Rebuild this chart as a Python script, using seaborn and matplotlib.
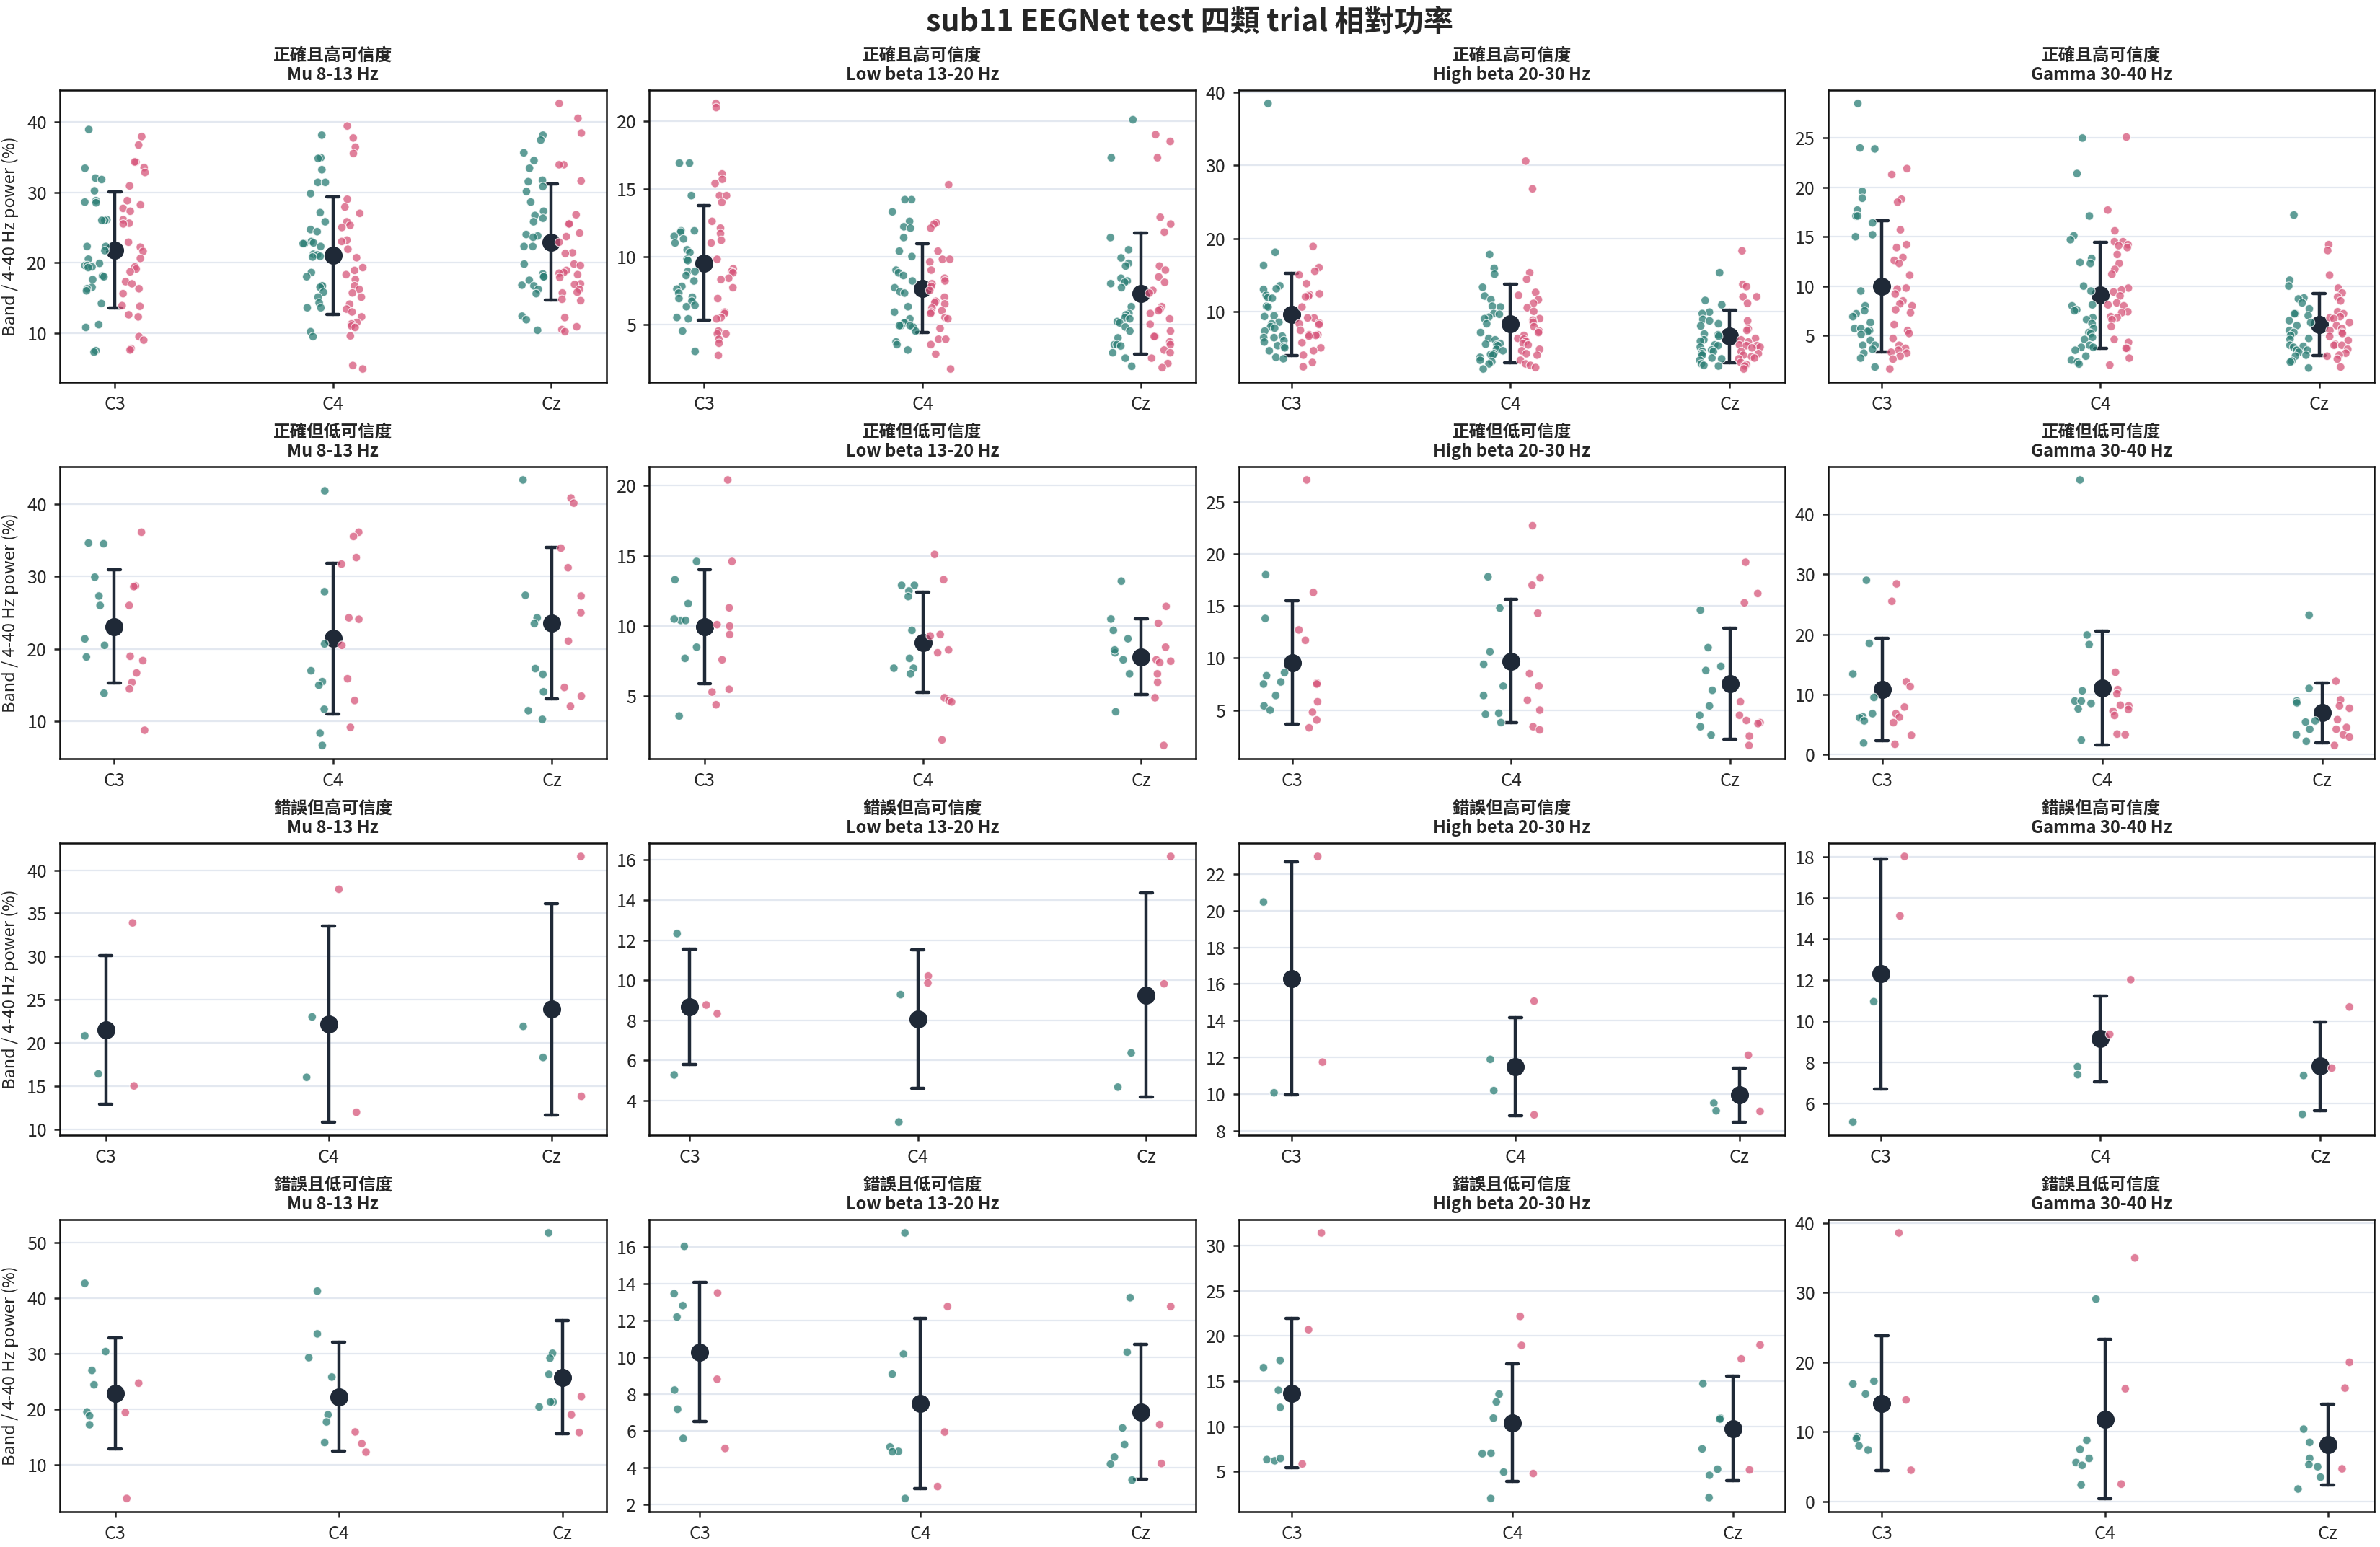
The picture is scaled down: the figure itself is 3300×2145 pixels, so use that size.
import numpy as np
import pandas as pd
import seaborn as sns
import matplotlib.pyplot as plt

channels = ["C3", "C4", "Cz"]
groups = ["A", "B"]
row_titles = ["正確且高可信度", "正確但低可信度", "錯誤但高可信度", "錯誤且低可信度"]
band_titles = ["Mu 8-13 Hz", "Low beta 13-20 Hz", "High beta 20-30 Hz", "Gamma 30-40 Hz"]

# 正確且高可信度
ok_hi_mu = {
    "C3": ([38.9, 33.4, 32.0, 31.8, 30.2, 28.8, 28.6, 28.5, 26.1, 26.0, 26.0, 22.3, 22.3, 21.7, 20.5, 19.9,
            19.6, 19.6, 19.4, 19.3, 18.1, 18.0, 17.6, 16.5, 16.3, 16.0, 14.2, 11.2, 10.8, 7.5, 7.3],
           [37.9, 36.7, 34.3, 34.3, 33.5, 32.8, 30.9, 28.8, 28.2, 27.7, 27.3, 26.1, 25.6, 25.5, 22.9, 22.2,
            21.6, 20.6, 19.4, 19.1, 18.7, 17.3, 17.0, 16.3, 15.6, 13.9, 13.8, 12.6, 12.3, 9.5, 9.0, 7.8, 7.6]),
    "C4": ([38.1, 34.9, 34.8, 33.2, 31.4, 31.4, 29.8, 27.1, 25.8, 24.7, 24.4, 23.0, 22.8, 22.7, 22.7, 22.3,
            21.2, 21.1, 20.9, 20.8, 18.6, 18.0, 16.7, 16.7, 16.5, 15.8, 15.1, 14.3, 13.6, 13.6, 10.2, 9.5],
           [39.4, 37.7, 36.4, 35.5, 29.0, 27.9, 27.0, 25.8, 25.3, 25.0, 23.2, 23.0, 21.9, 20.7, 19.3, 18.9,
            18.3, 17.6, 16.7, 16.2, 15.7, 15.1, 14.1, 13.4, 13.0, 12.3, 11.5, 11.3, 11.0, 10.8, 9.6, 5.4, 4.9]),
    "Cz": ([38.1, 37.4, 35.6, 34.5, 33.4, 31.7, 31.5, 30.8, 30.1, 28.6, 27.3, 26.7, 26.3, 25.8, 24.0, 23.8,
            23.6, 22.3, 22.3, 19.8, 18.4, 18.0, 18.0, 17.5, 16.8, 16.7, 16.2, 15.6, 12.4, 11.9, 10.4],
           [42.6, 40.5, 38.4, 33.9, 33.9, 31.6, 26.8, 25.5, 25.5, 24.2, 23.7, 22.9, 21.4, 21.3, 19.8, 19.6,
            18.9, 18.6, 18.5, 18.3, 17.9, 17.0, 16.9, 16.2, 15.8, 15.7, 14.8, 14.6, 12.2, 10.9, 10.5, 10.2]),
}
ok_hi_lb = {
    "C3": ([16.9, 16.9, 14.5, 11.9, 11.9, 11.8, 11.5, 11.3, 11.0, 10.5, 10.3, 9.8, 9.7, 8.9, 8.9, 8.6,
            8.2, 7.8, 7.6, 7.3, 7.0, 6.9, 6.7, 6.4, 6.3, 5.5, 5.4, 4.5, 3.0],
           [21.3, 21.0, 16.1, 15.7, 15.4, 14.5, 14.5, 14.0, 12.6, 12.1, 11.7, 11.2, 11.0, 9.8, 9.1, 8.9,
            8.8, 8.4, 8.3, 7.7, 6.9, 5.9, 5.8, 5.5, 5.4, 4.5, 4.3, 4.3, 3.9, 3.6, 2.7]),
    "C4": ([14.2, 14.2, 13.3, 12.6, 12.2, 12.1, 11.4, 10.4, 10.0, 9.0, 8.8, 8.6, 8.2, 7.7, 7.4, 7.3,
            6.3, 5.9, 5.4, 5.1, 5.1, 4.9, 4.9, 4.8, 4.5, 3.7, 3.5, 3.1, 4.9],
           [15.3, 12.5, 12.4, 12.1, 10.4, 9.8, 9.8, 9.6, 9.0, 8.4, 8.2, 8.0, 7.8, 7.5, 7.0, 6.7,
            6.6, 6.5, 6.2, 6.0, 5.9, 5.8, 5.5, 5.4, 4.7, 3.9, 3.9, 3.5, 2.8, 1.7]),
    "Cz": ([20.1, 17.3, 11.4, 10.5, 9.9, 9.5, 9.3, 8.4, 8.2, 8.1, 8.0, 7.7, 6.3, 5.8, 5.7, 5.5,
            5.4, 5.2, 5.1, 4.8, 4.5, 4.0, 3.5, 3.5, 3.4, 2.9, 2.5, 1.9],
           [19.0, 18.5, 17.3, 12.9, 12.4, 11.8, 9.3, 9.0, 8.5, 8.1, 7.5, 7.3, 6.3, 6.1, 6.0, 5.8,
            5.4, 5.0, 4.5, 4.1, 4.1, 3.7, 3.5, 3.1, 2.9, 2.5, 2.1, 1.8]),
}
ok_hi_hb = {
    "C3": ([38.5, 18.1, 16.3, 13.5, 13.1, 13.0, 12.2, 11.9, 11.8, 10.7, 10.6, 9.4, 9.3, 8.5, 8.3, 7.9,
            7.7, 7.3, 6.6, 6.4, 6.4, 6.0, 5.8, 5.3, 5.2, 5.0, 4.6, 3.7, 3.5],
           [18.9, 16.0, 15.5, 15.0, 13.8, 12.4, 12.3, 12.1, 12.0, 10.6, 9.1, 9.1, 8.4, 8.3, 8.2, 7.4,
            6.8, 6.8, 6.7, 6.6, 5.7, 5.0, 4.6, 4.0, 3.0, 2.4]),
    "C4": ([17.8, 15.9, 15.1, 13.3, 12.1, 11.6, 10.7, 10.6, 9.7, 9.6, 9.2, 9.0, 8.3, 7.1, 6.3, 6.1,
            5.6, 5.5, 5.4, 5.3, 4.8, 4.6, 4.2, 4.1, 4.0, 3.7, 3.3, 3.1, 2.8, 2.1],
           [30.6, 26.8, 15.3, 14.4, 12.6, 12.2, 11.6, 11.1, 10.5, 10.0, 9.0, 8.8, 8.5, 7.9, 7.3, 7.1,
            6.7, 6.3, 6.2, 5.9, 5.6, 5.4, 4.8, 4.6, 4.2, 4.0, 3.3, 2.8, 2.6, 2.3]),
    "Cz": ([15.3, 11.5, 10.9, 9.9, 9.7, 8.9, 8.7, 8.3, 8.0, 6.9, 6.8, 6.6, 6.1, 5.9, 5.4, 5.3,
            5.1, 4.7, 4.5, 4.5, 4.2, 4.0, 3.6, 3.5, 3.3, 2.8, 2.6, 2.5],
           [18.3, 13.7, 13.4, 12.0, 12.0, 11.1, 8.7, 7.6, 7.4, 6.3, 6.1, 5.8, 5.4, 5.3, 5.3, 5.1,
            5.0, 4.5, 4.2, 4.0, 3.8, 3.6, 3.5, 3.0, 2.7, 2.5, 2.1]),
}
ok_hi_g = {
    "C3": ([28.5, 24.0, 23.9, 19.6, 18.9, 17.7, 17.1, 17.1, 16.4, 15.2, 15.0, 9.5, 8.0, 7.5, 7.2, 6.9,
            6.3, 5.7, 5.7, 5.5, 5.4, 5.1, 4.5, 4.0, 4.0, 3.6, 3.2, 2.7, 1.8],
           [21.9, 21.3, 18.8, 18.5, 15.7, 14.2, 13.9, 12.9, 12.6, 12.3, 11.1, 9.8, 9.7, 9.2, 8.5, 8.2,
            8.0, 7.6, 7.3, 6.1, 5.5, 5.2, 4.7, 4.0, 3.7, 3.5, 3.3, 3.2, 2.9, 2.6, 1.6]),
    "C4": ([25.0, 21.4, 17.1, 15.1, 14.7, 12.8, 12.4, 12.3, 10.0, 9.5, 8.1, 8.0, 7.6, 7.5, 6.8, 6.6,
            6.2, 5.7, 5.3, 5.2, 4.8, 4.6, 4.0, 3.8, 3.8, 3.5, 2.9, 2.5, 2.3, 2.1],
           [25.1, 17.7, 15.6, 14.5, 14.5, 14.2, 14.1, 13.9, 13.2, 12.3, 11.7, 11.2, 9.8, 9.6, 9.4, 9.0,
            8.3, 8.1, 8.0, 7.4, 7.3, 6.9, 6.8, 6.6, 5.9, 4.6, 4.3, 3.7, 3.7, 2.7, 2.0]),
    "Cz": ([17.2, 10.6, 10.0, 8.8, 8.7, 8.3, 7.7, 7.2, 7.2, 7.0, 6.5, 6.3, 6.0, 5.5, 5.3, 5.0,
            4.7, 4.6, 4.0, 3.9, 3.8, 3.5, 3.5, 3.3, 3.0, 2.9, 2.4, 2.3, 1.7],
           [14.2, 13.6, 11.1, 9.8, 9.3, 8.9, 8.5, 7.4, 7.2, 6.9, 6.8, 6.7, 6.3, 6.0, 5.7, 5.5,
            5.3, 5.2, 4.9, 4.5, 4.1, 4.0, 4.0, 3.6, 3.2, 3.0, 2.9, 2.6, 1.8]),
}

# 正確但低可信度
ok_lo_mu = {
    "C3": ([34.5, 34.6, 29.9, 27.3, 26.0, 21.4, 20.5, 18.9, 13.9],
           [36.1, 28.7, 28.6, 26.0, 19.0, 18.4, 16.7, 15.4, 14.5, 8.8]),
    "C4": ([41.8, 27.9, 20.7, 17.0, 15.5, 15.0, 11.7, 8.4, 6.7],
           [36.1, 35.5, 32.6, 31.7, 24.3, 24.1, 20.5, 15.9, 12.9, 9.2]),
    "Cz": ([43.3, 27.4, 24.3, 23.5, 17.3, 16.5, 14.1, 11.5, 10.3],
           [40.8, 40.1, 33.9, 31.2, 27.3, 25.0, 21.1, 14.7, 13.5, 12.1]),
}
ok_lo_lb = {
    "C3": ([14.6, 13.3, 11.6, 10.4, 10.5, 10.4, 8.5, 7.7, 3.6],
           [20.4, 14.6, 11.3, 10.1, 10.0, 9.4, 7.6, 5.5, 5.3, 4.4]),
    "C4": ([12.9, 12.9, 12.5, 12.1, 9.7, 7.7, 7.0, 7.0, 6.6],
           [15.1, 13.3, 9.4, 9.3, 8.3, 8.1, 4.9, 4.7, 4.6, 1.9]),
    "Cz": ([13.2, 10.5, 9.7, 9.1, 8.1, 7.6, 8.3, 6.6, 3.9],
           [11.4, 10.2, 8.5, 7.6, 7.5, 7.4, 6.6, 6.0, 4.9, 1.5]),
}
ok_lo_hb = {
    "C3": ([18.0, 13.8, 8.6, 8.3, 7.7, 7.5, 6.4, 5.4, 5.0],
           [27.1, 16.3, 12.7, 11.7, 7.6, 7.5, 5.8, 4.8, 4.05, 3.3]),
    "C4": ([17.8, 14.8, 10.6, 9.4, 7.3, 6.4, 4.7, 4.6, 3.8],
           [22.7, 17.7, 17.0, 14.3, 8.5, 7.3, 5.95, 5.0, 3.4, 3.1]),
    "Cz": ([14.6, 11.0, 9.2, 8.8, 6.9, 5.4, 4.5, 3.4, 2.6],
           [19.2, 16.2, 15.3, 5.8, 4.5, 4.0, 3.8, 3.7, 2.5, 1.6]),
}
ok_lo_g = {
    "C3": ([29.0, 18.5, 13.4, 9.5, 6.8, 6.3, 6.1, 5.6, 1.9],
           [28.4, 25.5, 12.1, 11.3, 7.9, 6.8, 6.2, 5.3, 3.2, 1.7]),
    "C4": ([45.7, 19.9, 18.3, 10.6, 8.9, 8.9, 8.5, 7.6, 2.4],
           [13.7, 10.8, 10.1, 8.2, 8.1, 7.5, 7.2, 6.5, 3.4, 3.3]),
    "Cz": ([23.2, 11.0, 8.9, 8.6, 5.6, 5.4, 4.2, 3.3, 2.2],
           [12.2, 9.1, 8.1, 7.7, 5.8, 4.5, 4.2, 3.3, 2.9, 1.5]),
}

# 錯誤但高可信度
bad_hi_mu = {
    "C3": ([20.8, 16.4], [33.9, 15.0]),
    "C4": ([23.0, 16.0], [37.8, 11.95]),
    "Cz": ([21.9, 18.3], [41.6, 13.8]),
}
bad_hi_lb = {
    "C3": ([12.33, 5.27], [8.76, 8.33]),
    "C4": ([9.28, 2.92], [10.21, 9.86]),
    "Cz": ([6.37, 4.66], [16.18, 9.82]),
}
bad_hi_hb = {
    "C3": ([20.47, 10.08], [22.95, 11.75]),
    "C4": ([11.9, 10.2], [15.07, 8.88]),
    "Cz": ([9.52, 9.1], [12.13, 9.07]),
}
bad_hi_g = {
    "C3": ([10.94, 5.09], [18.0, 15.11]),
    "C4": ([7.78, 7.39], [12.01, 9.35]),
    "Cz": ([7.35, 5.46], [10.68, 7.71]),
}

# 錯誤且低可信度
bad_lo_mu = {
    "C3": ([42.7, 30.4, 27.0, 24.4, 19.5, 18.8, 17.2], [24.7, 19.4, 3.9]),
    "C4": ([41.3, 33.6, 29.3, 25.8, 19.0, 17.7, 14.0], [15.9, 13.8, 12.25]),
    "Cz": ([51.8, 30.1, 29.2, 26.3, 21.3, 21.3, 20.4], [22.3, 19.0, 15.8]),
}
bad_lo_lb = {
    "C3": ([16.04, 13.47, 12.82, 12.2, 8.23, 7.19, 5.6], [13.51, 8.82, 5.06]),
    "C4": ([16.77, 10.19, 9.1, 5.14, 4.9, 4.88, 2.34], [12.77, 5.95, 2.99]),
    "Cz": ([13.25, 10.29, 6.17, 5.27, 4.59, 4.21, 3.34], [12.77, 6.36, 4.24]),
}
bad_lo_hb = {
    "C3": ([17.3, 16.5, 14.0, 12.1, 6.33, 6.2, 6.46], [31.4, 20.7, 5.85]),
    "C4": ([13.57, 12.7, 10.92, 7.04, 6.99, 4.95, 2.03], [22.17, 18.96, 4.79]),
    "Cz": ([14.74, 10.92, 10.81, 7.52, 5.27, 4.6, 2.13], [19.01, 17.47, 5.19]),
}
bad_lo_g = {
    "C3": ([17.3, 16.9, 15.45, 9.3, 9.03, 8.0, 7.4], [38.6, 14.6, 4.5]),
    "C4": ([29.1, 8.8, 7.5, 6.2, 5.6, 5.2, 2.4], [35.0, 16.2, 2.5]),
    "Cz": ([10.4, 8.5, 6.2, 5.0, 5.3, 3.5, 1.8], [20.0, 16.3, 4.7]),
}

panels = [
    [ok_hi_mu, ok_hi_lb, ok_hi_hb, ok_hi_g],
    [ok_lo_mu, ok_lo_lb, ok_lo_hb, ok_lo_g],
    [bad_hi_mu, bad_hi_lb, bad_hi_hb, bad_hi_g],
    [bad_lo_mu, bad_lo_lb, bad_lo_hb, bad_lo_g],
]

palette = {"A": "#2a7d74", "B": "#d6557a"}
offset = {"A": -0.085, "B": 0.085}
mean_color = "#1f2937"

sns.set_style("ticks")
plt.rcParams['font.family'] = ['Noto Sans CJK TC', 'DejaVu Sans']
plt.rcParams['axes.linewidth'] = 0.9
plt.rcParams['axes.edgecolor'] = '#111111'


def to_frame(d):
    recs = []
    for ci, ch in enumerate(channels):
        for g, vals in zip(groups, d[ch]):
            for v in vals:
                recs.append((ch, ci, g, v))
    df = pd.DataFrame(recs, columns=["channel", "ci", "group", "value"])
    df["xpos"] = df["ci"] + df["group"].map(offset)
    return df


np.random.seed(11)
fig, axes = plt.subplots(4, 4, figsize=(16.5, 10.725), dpi=200)
fig.subplots_adjust(left=0.0252, right=0.9976, top=0.9417, bottom=0.0228, wspace=0.079, hspace=0.289)

for r in range(4):
    for c in range(4):
        ax = axes[r, c]
        df = to_frame(panels[r][c])
        sns.stripplot(data=df, x="xpos", y="value", hue="group", hue_order=groups, palette=palette,
                      native_scale=True, orient="x", jitter=0.32, size=4.2, alpha=0.75,
                      edgecolor="white", linewidth=0.45, legend=False, ax=ax)
        sns.pointplot(data=df, x="ci", y="value", native_scale=True, orient="x", errorbar="sd",
                      linestyle="none", color=mean_color, markersize=7, capsize=0.055,
                      err_kws={"linewidth": 1.6}, ax=ax)
        ax.set_xticks([0, 1, 2], channels)
        ax.set_xlabel("")
        ax.set_ylabel("Band / 4-40 Hz power (%)" if c == 0 else "", fontsize=8.5)
        ax.grid(axis="y", color="#e3e8f0", linewidth=0.8)
        ax.set_axisbelow(True)
        ax.tick_params(labelsize=9, length=3, width=0.9)
        ax.set_title(f"{row_titles[r]}\n{band_titles[c]}", fontsize=8.5, fontweight="bold", pad=5)

fig.suptitle("sub11 EEGNet test 四類 trial 相對功率", fontsize=14.8, fontweight="bold", y=0.995)

plt.savefig("out.png", dpi=200)
